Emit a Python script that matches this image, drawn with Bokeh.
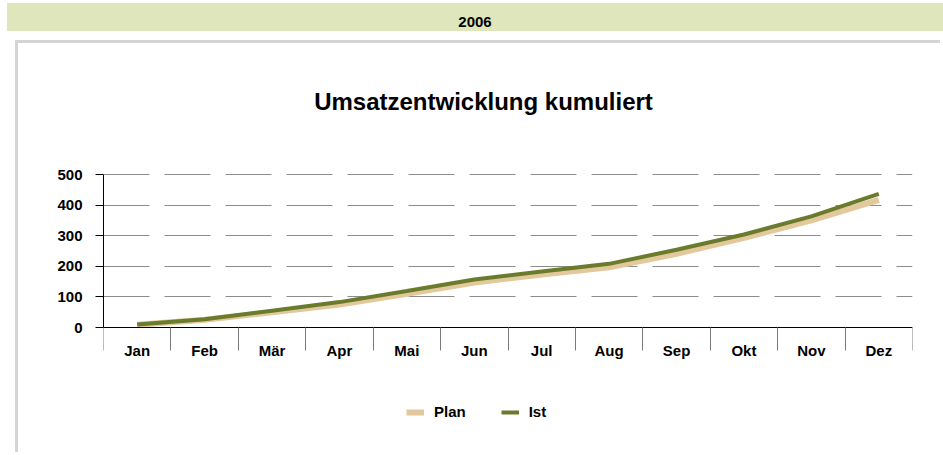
from bokeh.plotting import figure
from bokeh.models import Range1d, FixedTicker, Legend, LegendItem, Div, Label
from bokeh.layouts import column
from bokeh.embed import file_html
from bokeh.resources import INLINE

months = ["Jan", "Feb", "Mär", "Apr", "Mai", "Jun", "Jul", "Aug", "Sep", "Okt", "Nov", "Dez"]
plan = [9, 25, 50, 75, 110, 147, 173, 197, 241, 293, 350, 417]
ist = [10, 27, 55, 83, 119, 157, 183, 208, 254, 304, 363, 437]
y_ticks = [0, 100, 200, 300, 400, 500]
year = "2006"
title_text = "Umsatzentwicklung kumuliert"

FONT = "Liberation Sans"
xs = [i + 0.5 for i in range(len(months))]
bounds = list(range(len(months) + 1))

# ---- layout geometry (pixels) ----
W, H = 925, 412
FRAME_W = 809
AXIS_PX = 153            # pixels for the value span 0..500
ABOVE_PX = 131           # room above the value 500 (title area)
BELOW_PX = 103           # room below value 0 (category labels + legend)
Y_TOP = 500
px_per_unit = AXIS_PX / Y_TOP
Y_HIGH = Y_TOP + ABOVE_PX / px_per_unit
Y_LOW = -BELOW_PX / px_per_unit
TITLE_Y = Y_TOP + (ABOVE_PX - 57.5) / px_per_unit
TITLE_X = len(months) * (483 - 103) / FRAME_W

p = figure(width=W, height=H, x_range=Range1d(0, len(months)), y_range=Range1d(Y_LOW, Y_HIGH),
           output_backend="svg", toolbar_location=None, title_location=None,
           min_border_left=85, min_border_right=31, min_border_top=0, min_border_bottom=25,
           outline_line_color=None, background_fill_color="white", border_fill_color="white")

p.add_layout(Label(x=TITLE_X, y=TITLE_Y, text=title_text, text_align="center",
                   text_baseline="middle", text_font=FONT, text_font_size="24px",
                   text_font_style="bold", text_color="black"))

# y axis
p.yaxis.ticker = FixedTicker(ticks=y_ticks)
p.yaxis.bounds = (0, Y_TOP)
p.yaxis.major_tick_out = 8
p.yaxis.major_tick_in = 0
p.yaxis.minor_tick_out = 0
p.yaxis.minor_tick_in = 0
p.yaxis.axis_line_color = "black"
p.yaxis.major_tick_line_color = "black"
p.yaxis.major_label_text_font = FONT
p.yaxis.major_label_text_font_style = "bold"
p.yaxis.major_label_text_font_size = "15px"
p.yaxis.major_label_text_color = "black"
p.yaxis.major_label_standoff = 13

# x axis at value 0
p.xaxis.fixed_location = 0
p.xaxis.ticker = FixedTicker(ticks=xs, minor_ticks=bounds)
p.xaxis.major_label_overrides = {x: m for x, m in zip(xs, months)}
p.xaxis.major_tick_out = 0
p.xaxis.major_tick_in = 0
p.xaxis.minor_tick_out = 23
p.xaxis.minor_tick_in = 0
p.xaxis.minor_tick_line_color = "#7a7a7a"
p.xaxis.axis_line_color = "black"
p.xaxis.major_label_text_font = FONT
p.xaxis.major_label_text_font_style = "bold"
p.xaxis.major_label_text_font_size = "15px"
p.xaxis.major_label_text_color = "black"
p.xaxis.major_label_standoff = -9

p.xgrid.visible = False
p.ygrid.grid_line_color = "#8c8c8c"
p.ygrid.grid_line_dash = "46 15"
p.ygrid.grid_line_width = 1

r_plan = p.line(xs, plan, line_color="#E2C89B", line_width=6)
r_ist = p.line(xs, ist, line_color="#6A7B2C", line_width=4)

legend = Legend(items=[LegendItem(label="Plan", renderers=[r_plan]),
                       LegendItem(label="Ist", renderers=[r_ist])],
                orientation="horizontal", location=(303, 10),
                border_line_color=None, background_fill_alpha=0,
                padding=0, margin=0, spacing=35, glyph_width=18, glyph_height=14,
                label_height=14, label_standoff=10,
                label_text_font=FONT, label_text_font_style="bold",
                label_text_font_size="15px", label_text_color="black")
p.add_layout(legend, "center")

p.styles = {"border-left": "3px solid #D4D4D4", "border-top": "3px solid #D4D4D4"}
p.margin = (0, 0, 0, 15)

band = Div(text=year, width=936, height=28,
           styles={"background-color": "#DFE6BC", "text-align": "center",
                   "font-family": FONT, "font-weight": "bold", "font-size": "15px",
                   "line-height": "38px", "color": "black", "overflow": "hidden"})
band.margin = (3, 0, 0, 7)

layout = column(band, p, spacing=9)

open("out.html", "w").write(file_html(layout, INLINE))
